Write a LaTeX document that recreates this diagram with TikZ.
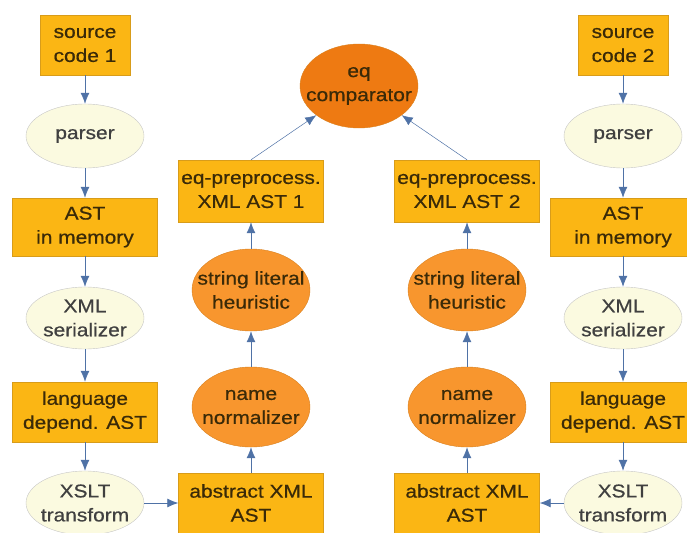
\documentclass[tikz,border=0pt]{standalone}
\usepackage{fontspec}
\setmainfont{Liberation Sans}[FakeStretch=1.13, FakeBold=0.6]
\usetikzlibrary{shapes.geometric,arrows.meta}

\definecolor{datafill}{HTML}{FBB614}
\definecolor{dataedge}{HTML}{D89C1A}
\definecolor{toolfill}{HTML}{FBFAE0}
\definecolor{passfill}{HTML}{F8962E}
\definecolor{passedge}{HTML}{D8801E}
\definecolor{eqfill}{HTML}{EE7A12}
\definecolor{inkbrown}{HTML}{3A2A08}
\definecolor{flowblue}{HTML}{4F72A6}

\tikzstyle{datum}=[rectangle, draw=dataedge, fill=datafill, text=inkbrown, align=center, inner sep=0, minimum width=145pt, minimum height=60pt]
\tikzstyle{tool}=[ellipse, draw=gray!45, fill=toolfill, text=black!75, align=center, inner xsep=-10pt, inner ysep=0, minimum width=118pt, minimum height=64pt]
\tikzstyle{passnode}=[ellipse, draw=passedge, fill=passfill, text=inkbrown, align=center, inner xsep=-24pt, inner ysep=-4pt, minimum width=118pt, minimum height=82pt]
\tikzstyle{flow}=[draw=flowblue, line width=0.8pt, -{Latex[length=11pt,width=9pt]}]

\begin{document}
\begin{tikzpicture}[x=1pt, y=-1pt, font=\fontsize{18.5}{24}\selectfont]

\useasboundingbox (0, 0) rectangle (687, 532);

% left chain
\node [datum, minimum width=90pt] (src1) at (85, 45) {source\\code 1};
\node [tool] (parse1) at (85, 136) {parser};
\node [datum, minimum height=58pt] (mem1) at (85, 227) {AST\\in memory};
\node [tool, minimum height=62pt] (ser1) at (85, 318) {XML\\serializer};
\node [datum] (lang1) at (85, 412) {language\\depend. AST};
\node [tool] (xslt1) at (85, 503) {XSLT\\transform};

% right chain
\node [datum, minimum width=90pt] (src2) at (623, 45) {source\\code 2};
\node [tool] (parse2) at (623, 136) {parser};
\node [datum, minimum height=58pt] (mem2) at (623, 227) {AST\\in memory};
\node [tool, minimum height=62pt] (ser2) at (623, 318) {XML\\serializer};
\node [datum] (lang2) at (623, 412) {language\\depend. AST};
\node [tool] (xslt2) at (623, 503) {XSLT\\transform};

% middle
\node [datum] (abs1) at (251, 503) {abstract XML\\AST};
\node [passnode, minimum height=80pt] (norm1) at (251, 407) {name\\normalizer};
\node [passnode] (heur1) at (251, 290) {string literal\\heuristic};
\node [datum, minimum height=62pt] (pre1) at (251, 191) {eq-preprocess.\\XML AST 1};

\node [datum] (abs2) at (467, 503) {abstract XML\\AST};
\node [passnode, minimum height=80pt] (norm2) at (467, 407) {name\\normalizer};
\node [passnode] (heur2) at (467, 290) {string literal\\heuristic};
\node [datum, minimum height=62pt] (pre2) at (467, 191) {eq-preprocess.\\XML AST 2};

\node [passnode, fill=eqfill, minimum height=84pt] (eq) at (359, 86) {eq\\comparator};

\draw [flow] (src1) -- (parse1);
\draw [flow] (parse1) -- (mem1);
\draw [flow] (mem1) -- (ser1);
\draw [flow] (ser1) -- (lang1);
\draw [flow] (lang1) -- (xslt1);
\draw [flow] (xslt1) -- (abs1);
\draw [flow] (abs1) -- (norm1);
\draw [flow] (norm1) -- (heur1);
\draw [flow] (heur1) -- (pre1);
\draw [flow, line width=0.5pt] (pre1.north) -- (eq);

\draw [flow] (src2) -- (parse2);
\draw [flow] (parse2) -- (mem2);
\draw [flow] (mem2) -- (ser2);
\draw [flow] (ser2) -- (lang2);
\draw [flow] (lang2) -- (xslt2);
\draw [flow] (xslt2) -- (abs2);
\draw [flow] (abs2) -- (norm2);
\draw [flow] (norm2) -- (heur2);
\draw [flow] (heur2) -- (pre2);
\draw [flow, line width=0.5pt] (pre2.north) -- (eq);

\end{tikzpicture}
\end{document}
